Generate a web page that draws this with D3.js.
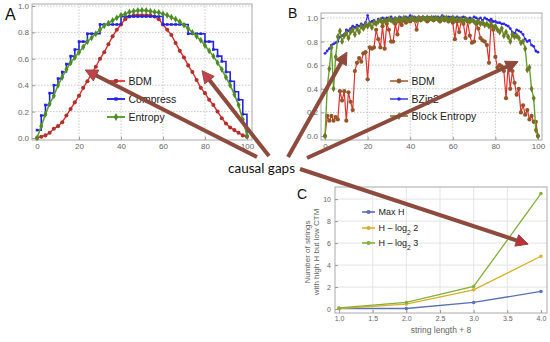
<!DOCTYPE html>
<html>
<head>
<meta charset="utf-8">
<script src="https://cdn.jsdelivr.net/npm/d3@7"></script>
<style>
    body { margin: 0; background: #fff; }
    svg { display: block; font-family: "Liberation Sans", Arial, sans-serif; }
    .tick text { fill: #666; }
    .tick line { stroke: #999; }
</style>
</head>
<body>
<div id="chart"></div>
<script>
// ---- panel A : length 100 strings, BDM vs compression vs entropy
const aX = [0,2,4,6,8,10,12,14,16,18,20,22,24,26,28,30,32,34,36,38,40,42,44,46,48,50,
    52,54,56,58,60,62,64,66,68,70,72,74,76,78,80,82,84,86,88,90,92,94,96,98,100];
const aBDM = [0.00,0.01,0.02,0.04,0.07,0.09,0.12,0.17,0.22,0.27,
    0.32,0.38,0.43,0.49,0.54,0.60,0.65,0.71,0.77,0.82,
    0.86,0.90,0.92,0.93,0.93,0.93,0.93,0.93,0.92,0.90,
    0.86,0.82,0.78,0.72,0.66,0.61,0.55,0.50,0.44,0.38,
    0.34,0.29,0.25,0.20,0.15,0.11,0.08,0.06,0.04,0.02,
    0.01];
const aCompress = [0.06,0.17,0.25,0.34,0.40,0.45,0.50,0.56,0.62,0.67,
    0.73,0.73,0.79,0.79,0.79,0.86,0.86,0.86,0.86,0.86,
    0.92,0.92,0.92,0.92,0.92,0.92,0.92,0.92,0.92,0.92,
    0.86,0.86,0.86,0.86,0.86,0.86,0.79,0.79,0.79,0.79,
    0.73,0.73,0.67,0.62,0.58,0.50,0.43,0.35,0.29,0.18,
    0.05];
const aEntropy = [0.00,0.09,0.18,0.26,0.32,0.40,0.46,0.52,0.57,0.61,
    0.65,0.69,0.73,0.76,0.79,0.82,0.85,0.87,0.89,0.91,
    0.93,0.94,0.955,0.96,0.965,0.967,0.965,0.96,0.955,0.95,
    0.94,0.93,0.915,0.90,0.88,0.855,0.83,0.80,0.77,0.74,
    0.70,0.66,0.62,0.57,0.52,0.46,0.40,0.33,0.25,0.14,
    0.02];

// ---- panel B
const bX = [0,1,2,3,4,5,6,7,8,9,10,11,12,13,14,15,16,17,18,19,20,21,22,23,24,25,26,27,28,29,
    30,31,32,33,34,35,36,37,38,39,40,41,42,43,44,45,46,47,48,49,50,51,52,53,54,55,56,57,58,59,
    60,61,62,63,64,65,66,67,68,69,70,71,72,73,74,75,76,77,78,79,80,81,82,83,84,85,86,87,88,89,
    90,91,92,93,94,95,96,97,98,99,100];
const bBDM = [0.00,0.17,0.13,0.17,0.13,0.16,0.14,0.38,0.30,0.38,
    0.13,0.37,0.29,0.22,0.55,0.62,0.66,0.63,0.70,0.71,
    0.48,0.75,0.74,0.75,0.90,0.82,0.75,0.93,0.74,0.95,
    0.90,0.80,0.80,0.95,0.86,0.97,0.94,0.98,0.96,0.99,
    0.97,0.99,0.98,0.90,0.99,0.98,1.00,0.99,0.97,1.00,
    0.99,0.98,1.00,0.99,0.97,1.00,0.98,0.99,0.97,1.00,
    0.96,0.82,0.97,0.88,0.98,0.95,0.83,0.97,0.85,0.79,
    0.80,0.95,0.91,0.83,0.81,0.80,0.77,0.62,0.97,0.90,
    0.67,0.58,0.60,0.59,0.55,0.32,0.60,0.40,0.55,0.45,
    0.35,0.40,0.20,0.26,0.18,0.22,0.14,0.17,0.12,0.12,
    0.00];
const bBZip2 = [0.70,0.72,0.74,0.77,0.78,0.79,0.80,0.84,0.85,0.86,
    0.90,0.89,0.91,0.93,0.92,0.94,0.93,0.95,0.94,0.96,
    1.02,0.96,0.97,0.98,0.96,0.99,0.98,1.00,0.99,1.00,
    0.98,1.01,0.99,1.00,0.99,1.01,1.00,0.99,1.01,1.00,
    1.02,1.00,1.01,1.00,1.01,1.00,1.01,1.00,1.01,1.00,
    1.00,1.01,1.00,1.01,1.00,1.02,1.01,1.00,1.01,1.00,
    1.01,1.00,1.01,1.00,1.00,1.01,1.00,0.99,1.00,0.99,
    1.01,1.00,0.99,1.00,0.98,1.00,0.99,0.98,0.99,0.97,
    0.97,0.96,0.96,0.95,0.95,0.94,0.93,0.91,0.88,0.87,
    0.90,0.89,0.88,0.86,0.82,0.80,0.81,0.77,0.76,0.72,
    0.71];
const bBlock = [0.00,0.40,0.57,0.75,0.40,0.67,0.84,0.89,0.80,0.85,
    0.87,0.83,0.88,0.90,0.86,0.91,0.88,0.93,0.91,0.94,
    0.93,0.95,0.92,0.96,0.95,0.97,0.98,0.96,0.98,0.97,
    0.99,0.98,0.97,0.99,0.98,0.99,0.98,1.00,0.99,0.98,
    0.99,1.00,0.99,0.98,1.00,0.99,1.00,0.99,1.00,0.99,
    1.00,0.99,1.00,0.99,0.98,1.00,0.99,1.00,0.98,0.99,
    1.00,0.98,0.99,0.98,0.99,0.97,0.99,0.98,0.97,0.98,
    0.97,0.96,0.97,0.95,0.96,0.94,0.95,0.93,0.94,0.92,
    0.93,0.90,0.88,0.91,0.85,0.88,0.84,0.80,0.86,0.84,
    0.85,0.83,0.79,0.80,0.74,0.56,0.58,0.40,0.32,0.05,
    0.00];

// ---- panel C
const cX = [1, 2, 3, 4];
const cMaxH = [0.05, 0.05, 0.6, 1.6];
const cLog2 = [0.05, 0.45, 1.75, 4.8];
const cLog3 = [0.1, 0.6, 2.05, 10.5];

const aTicksX = [0,20,40,60,80,100], aTicksY = [0,0.2,0.4,0.6,0.8,1.0];
const bTicksX = [0,20,40,60,80,100], bTicksY = [0,0.2,0.4,0.6,0.8,1.0];
const cTicksX = [1,1.5,2,2.5,3,3.5,4], cTicksY = [0,2,4,6,8,10];


const svg = d3.select("#chart")
    .append("svg")
    .attr("width", 550)
    .attr("height", 342);

const arrowColor = "#8e4b3d";

// scales (the range is the frame of each panel)
var ax = d3.scaleLinear().domain([-2.4, 102.4]).range([32, 252]),
    ay = d3.scaleLinear().domain([-0.015, 1.015]).range([140, 4]);
var bx = d3.scaleLinear().domain([-1.9, 101.9]).range([321, 542]),
    by = d3.scaleLinear().domain([-0.034, 1.042]).range([140, 13]);
var cx = d3.scaleLinear().domain([0.94, 4.09]).range([335, 547]),
    cy = d3.scaleLinear().domain([-0.36, 11.1]).range([313, 187]);


function frame(sx, sy, gx, gy, dashed, xt, yt, fmtX, fmtY, fontSize, padY) {
    var g = svg.append("g");
    var x0 = sx.range()[0], x1 = sx.range()[1], y0 = sy.range()[0], y1 = sy.range()[1];

    //grid
    g.selectAll(".gx").data(gx).enter().append("line")
        .attr("x1", function(d){ return sx(d); }).attr("x2", function(d){ return sx(d); })
        .attr("y1", y0).attr("y2", y1)
        .attr("stroke", dashed ? "#bbb" : "#ddd")
        .attr("stroke-width", 0.8)
        .attr("stroke-dasharray", dashed ? "1.5,1.5" : null);
    g.selectAll(".gy").data(gy).enter().append("line")
        .attr("y1", function(d){ return sy(d); }).attr("y2", function(d){ return sy(d); })
        .attr("x1", x0).attr("x2", x1)
        .attr("stroke", dashed ? "#bbb" : "#ddd")
        .attr("stroke-width", 0.8)
        .attr("stroke-dasharray", dashed ? "1.5,1.5" : null);

    g.append("rect")
        .attr("x", x0).attr("y", y1)
        .attr("width", x1 - x0).attr("height", y0 - y1)
        .attr("fill", "none").attr("stroke", "#aaa").attr("stroke-width", 1);

    g.append("g")
        .attr("transform", "translate(0," + y0 + ")")
        .call(d3.axisBottom(sx).tickValues(xt).tickSize(-3).tickPadding(3.5).tickFormat(fmtX))
        .call(function(s){ s.select(".domain").remove(); })
        .selectAll("text").style("font-size", fontSize + "px");

    g.append("g")
        .attr("transform", "translate(" + x0 + ",0)")
        .call(d3.axisLeft(sy).tickValues(yt).tickSize(-3).tickPadding(padY).tickFormat(fmtY))
        .call(function(s){ s.select(".domain").remove(); })
        .selectAll("text").style("font-size", fontSize + "px");
}

function series(sx, sy, xs, ys, o) {
    var pts = xs.map(function(x, i){ return [x, ys[i]]; });
    var line = d3.line()
        .x(function(d){ return sx(d[0]); })
        .y(function(d){ return sy(d[1]); })
        .curve(o.curve || d3.curveLinear);

    svg.append("path")
        .attr("d", line(pts))
        .attr("fill", "none")
        .attr("stroke", o.stroke)
        .attr("stroke-width", o.width);

    svg.append("g").selectAll("path")
        .data(pts).enter().append("path")
        .attr("d", d3.symbol().type(o.symbol).size(o.size))
        .attr("transform", function(d){ return "translate(" + sx(d[0]) + "," + sy(d[1]) + ")"; })
        .attr("fill", o.fill);
}

function legend(x, y, items, fontSize, lineLen) {
    items.forEach(function(it, i){
        var yy = y[i];
        svg.append("line")
            .attr("x1", x).attr("x2", x + lineLen)
            .attr("y1", yy).attr("y2", yy)
            .attr("stroke", it.o.stroke).attr("stroke-width", it.o.width + 0.3);
        svg.append("path")
            .attr("d", d3.symbol().type(it.o.symbol).size(it.o.size + 4))
            .attr("transform", "translate(" + (x + lineLen / 2) + "," + yy + ")")
            .attr("fill", it.o.fill);
        var t = svg.append("text")
            .attr("x", x + lineLen + 3.5).attr("y", yy)
            .attr("dy", "0.35em")
            .style("font-size", fontSize + "px")
            .attr("fill", "#222");
        it.label.forEach(function(part){
            var ts = t.append("tspan").text(part.t);
            if (part.sub) ts.attr("baseline-shift", "sub").style("font-size", (fontSize * 0.75) + "px");
        });
    });
}

/* ---------- A ---------- */
var f1 = d3.format(".1f");
frame(ax, ay, [20,40,60,80], [0.2,0.4,0.6,0.8,1.0], true, aTicksX, aTicksY, d3.format("d"), f1, 8, 3);

var styA = {
    bdm: {stroke: "#e02a2a", width: 1.4, symbol: d3.symbolCircle, size: 13, fill: "#b0302a"},
    comp: {stroke: "#2424e6", width: 1.6, symbol: d3.symbolSquare, size: 7, fill: "#2424e6", curve: d3.curveStepAfter},
    ent: {stroke: "#5aa02c", width: 1.6, symbol: d3.symbolDiamond, size: 14, fill: "#4c8c26"}
};
series(ax, ay, aX, aBDM, styA.bdm);
series(ax, ay, aX, aCompress, styA.comp);
series(ax, ay, aX, aEntropy, styA.ent);
legend(107, [81, 99, 117], [
    {o: styA.bdm, label: [{t: "BDM"}]},
    {o: styA.comp, label: [{t: "Compress"}]},
    {o: styA.ent, label: [{t: "Entropy"}]}
], 10.5, 18);

/* ---------- B ---------- */
frame(bx, by, [20,40,60,80], [0.2,0.4,0.6,0.8,1.0], true, bTicksX, bTicksY, d3.format("d"), f1, 8, 3);

var styB = {
    bdm: {stroke: "#e4302c", width: 1.2, symbol: d3.symbolCircle, size: 14, fill: "#94552a"},
    bzip: {stroke: "#2a2ae8", width: 1.1, symbol: d3.symbolCircle, size: 6, fill: "#2a2ae8"},
    block: {stroke: "#62a42c", width: 1.4, symbol: d3.symbolDiamond, size: 14, fill: "#6b7c22"}
};
series(bx, by, bX, bBDM, styB.bdm);
series(bx, by, bX, bBZip2, styB.bzip);
series(bx, by, bX, bBlock, styB.block);
legend(390, [81, 99, 116], [
    {o: {stroke: "#a0562e", width: 1.2, symbol: d3.symbolCircle, size: 14, fill: "#94552a"}, label: [{t: "BDM"}]},
    {o: styB.bzip, label: [{t: "BZip2"}]},
    {o: {stroke: "#8a7a2a", width: 1.4, symbol: d3.symbolDiamond, size: 14, fill: "#6b7c22"}, label: [{t: "Block Entropy"}]}
], 10.5, 18);

/* ---------- C ---------- */
frame(cx, cy, [1.5,2,2.5,3,3.5], [2,4,6,8,10], false, cTicksX, cTicksY, f1, d3.format("d"), 7, 4);

var styC = {
    max: {stroke: "#5b70b6", width: 1.3, symbol: d3.symbolCircle, size: 10, fill: "#5b70b6"},
    l2: {stroke: "#d6b12a", width: 1.3, symbol: d3.symbolCircle, size: 10, fill: "#d6b12a"},
    l3: {stroke: "#84b03a", width: 1.3, symbol: d3.symbolCircle, size: 10, fill: "#84b03a"}
};
series(cx, cy, cX, cMaxH, styC.max);
series(cx, cy, cX, cLog2, styC.l2);
series(cx, cy, cX, cLog3, styC.l3);
legend(362, [212, 228, 243], [
    {o: styC.max, label: [{t: "Max H"}]},
    {o: styC.l2, label: [{t: "H \u2013 log"}, {t: "2", sub: true}, {t: " 2"}]},
    {o: styC.l3, label: [{t: "H \u2013 log"}, {t: "2", sub: true}, {t: " 3"}]}
], 9, 13);

svg.append("text")
    .attr("x", 441).attr("y", 333)
    .attr("text-anchor", "middle")
    .style("font-size", "8.5px").attr("fill", "#666")
    .text("string length + 8");

[["Number of strings", 307], ["with high H but low CTM", 316]].forEach(function(l){
    svg.append("text")
        .attr("transform", "translate(" + l[1] + ",252) rotate(-90)")
        .attr("text-anchor", "middle").attr("dy", "0.35em")
        .style("font-size", "8px").attr("fill", "#666")
        .text(l[0]);
});

// panel letters
svg.append("text").attr("x", 5).attr("y", 20).style("font-size", "16px").attr("fill", "#111").text("A");
svg.append("text").attr("x", 288).attr("y", 18).style("font-size", "14px").attr("fill", "#111").text("B");
svg.append("text").attr("x", 297).attr("y", 199).style("font-size", "14px").attr("fill", "#111").text("C");

/* ---------- arrows to the causal gaps ---------- */
function arrow(x1, y1, x2, y2, headFill) {
    var dx = x2 - x1, dy = y2 - y1, L = Math.sqrt(dx * dx + dy * dy),
        ux = dx / L, uy = dy / L, hl = 12, hw = 6;
    var hx = x2 - ux * hl, hy = y2 - uy * hl;
    svg.append("line")
        .attr("x1", x1).attr("y1", y1)
        .attr("x2", hx + ux * 2).attr("y2", hy + uy * 2)
        .attr("stroke", arrowColor).attr("stroke-width", 4);
    svg.append("polygon")
        .attr("points", [[x2, y2], [hx - uy * hw, hy + ux * hw], [hx + uy * hw, hy - ux * hw]].join(" "))
        .attr("fill", headFill)
        .attr("stroke", arrowColor).attr("stroke-width", 1);
}

arrow(257, 157, ax(23), ay(0.515), "#c4424c");
arrow(269, 156, ax(78.6), ay(0.51), "#c4424c");
arrow(288, 157, bx(10.3), by(0.71), arrowColor);
arrow(307, 158, bx(90.6), by(0.63), arrowColor);
arrow(300, 169, cx(3.81), cy(5.9), "#c0303c");

svg.append("text")
    .attr("x", 261.5).attr("y", 172.5)
    .attr("text-anchor", "middle")
    .style("font-family", "Lato, 'Open Sans', sans-serif")
    .style("font-size", "13.5px")
    .attr("fill", "#111")
    .text("causal gaps");
</script>
</body>
</html>
